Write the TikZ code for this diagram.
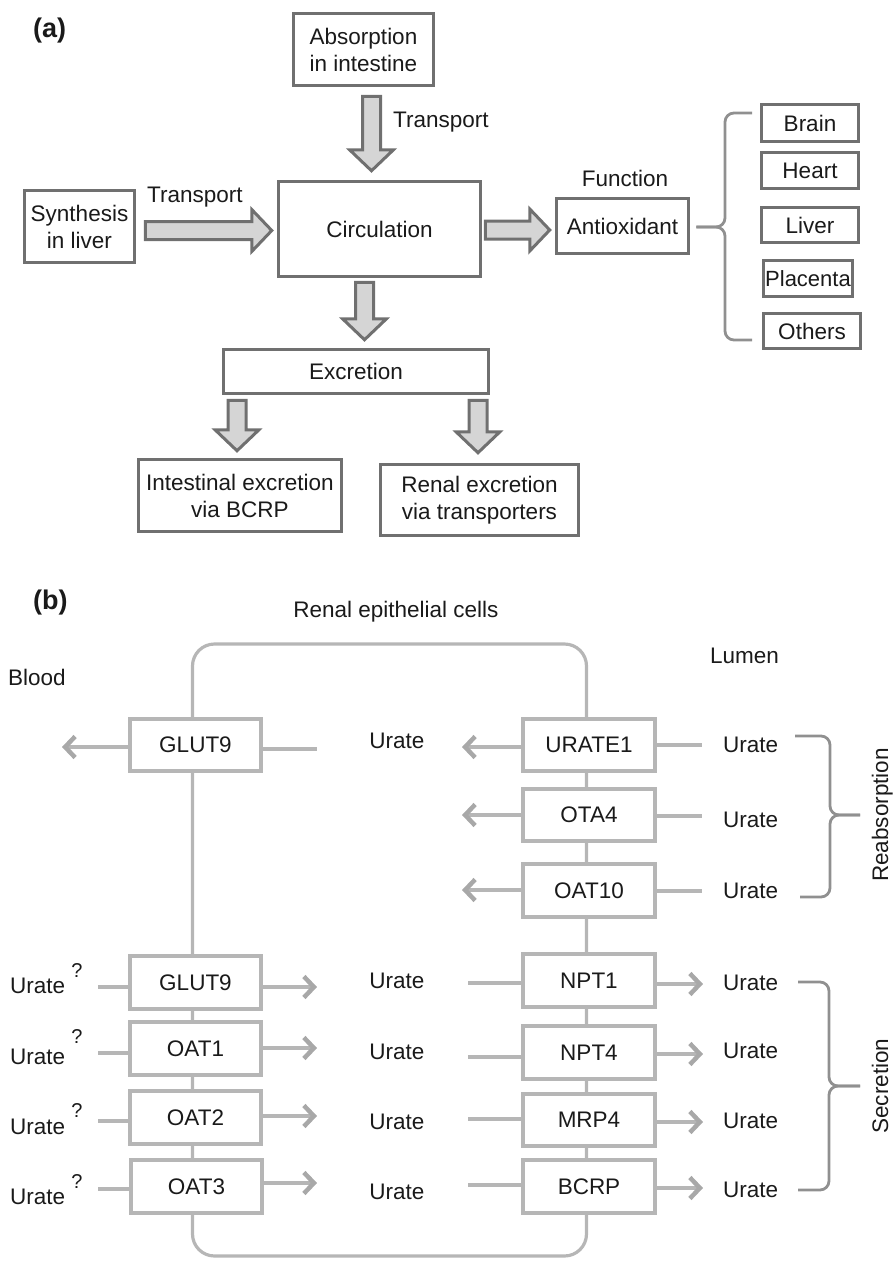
\documentclass[tikz,border=0pt]{standalone}
\usepackage{fontspec}
\setmainfont{Liberation Sans}
\usetikzlibrary{calc,arrows.meta}
\definecolor{boxA}{HTML}{707070}
\definecolor{fillA}{HTML}{D5D5D5}
\definecolor{lineB}{HTML}{B6B6B6}
\definecolor{headB}{HTML}{A8A8A8}
\definecolor{braceC}{HTML}{909090}
\definecolor{txt}{HTML}{1A1A1A}
\begin{document}
\begin{tikzpicture}[x=1pt,y=-1pt,
  every node/.style={font=\fontsize{22.5}{27}\selectfont, text=txt, inner sep=0pt},
  boxa/.style={draw=boxA, line width=3.5pt, fill=white, align=center},
  fat/.style={draw=boxA, fill=fillA, line width=3pt, line join=miter},
  boxb/.style={draw=lineB, line width=3.6pt, fill=white, minimum width=131.5pt, minimum height=52.5pt},
  cellline/.style={draw=lineB, line width=3.2pt},
  flow/.style={draw=lineB, line width=3.2pt},
  flowarr/.style={flow, -{Straight Barb[length=10pt,width=21pt,line width=4.5pt,color=headB]}},
  brc/.style={draw=braceC, line width=2.8pt, rounded corners=9pt},
  lab/.style={font=\fontsize{27}{30}\bfseries\selectfont, anchor=base west},
  qm/.style={font=\fontsize{20}{24}\selectfont, anchor=base},
]
\useasboundingbox (0,0) rectangle (893,1261);

% ---------------- (a) ----------------
\node[lab] (la) at (33,37) {(a)};
\node[boxa, minimum width=140, minimum height=72] (abs) at (363.5,49.5) {Absorption\\in intestine};
\node[boxa, minimum width=110, minimum height=72] (syn) at (79.5,226.5) {Synthesis\\in liver};
\node[boxa, minimum width=202, minimum height=95] (circ) at (379.5,229) {Circulation};
\node[boxa, minimum width=132, minimum height=55] (anti) at (622.5,226) {Antioxidant};
\node[boxa, minimum width=97, minimum height=37] (brain) at (810,123) {Brain};
\node[boxa, minimum width=97, minimum height=36] (heart) at (810,170.5) {Heart};
\node[boxa, minimum width=97, minimum height=35] (liver) at (810,225) {Liver};
\node[boxa, minimum width=89, minimum height=36, font=\fontsize{22}{27}\selectfont] (plac) at (808,278.5) {Placenta};
\node[boxa, minimum width=97, minimum height=35] (oth) at (812,331) {Others};
\node[boxa, minimum width=265, minimum height=44] (exc) at (356,371.5) {Excretion};
\node[boxa, minimum width=203, minimum height=72] (intx) at (240,495.5) {Intestinal excretion\\via BCRP};
\node[boxa, minimum width=198, minimum height=71] (renx) at (479.5,500) {Renal excretion\\via transporters};

\node[anchor=base west] (t1) at (393,127) {Transport};
\node[anchor=base west] (t2) at (147,202) {Transport};
\node[anchor=base] (fn) at (625,186) {Function};

% fat arrows
\draw[fat] let \p1=($(abs.south)+(8,9)$), \p2=($(circ.north)+(0,-9)$) in
  (\x1-9pt,\y1) -- (\x1+9pt,\y1) -- (\x1+9pt,\y2+21pt) -- (\x1+22pt,\y2+21pt) -- (\x1,\y2)
  -- (\x1-22pt,\y2+21pt) -- (\x1-9pt,\y2+21pt) -- cycle;
\draw[fat] let \p1=($(circ.south)+(-15,4)$), \p2=($(exc.north)+(0,-8)$) in
  (\x1-9pt,\y1) -- (\x1+9pt,\y1) -- (\x1+9pt,\y2+21pt) -- (\x1+22pt,\y2+21pt) -- (\x1,\y2)
  -- (\x1-22pt,\y2+21pt) -- (\x1-9pt,\y2+21pt) -- cycle;
\draw[fat] let \p1=($(exc.south)+(-119,5)$), \p2=($(intx.north)+(0,-7)$) in
  (\x1-9pt,\y1) -- (\x1+9pt,\y1) -- (\x1+9pt,\y2+21pt) -- (\x1+22pt,\y2+21pt) -- (\x1,\y2)
  -- (\x1-22pt,\y2+21pt) -- (\x1-9pt,\y2+21pt) -- cycle;
\draw[fat] let \p1=($(exc.south)+(122,5)$), \p2=($(renx.north)+(0,-10)$) in
  (\x1-9pt,\y1) -- (\x1+9pt,\y1) -- (\x1+9pt,\y2+21pt) -- (\x1+22pt,\y2+21pt) -- (\x1,\y2)
  -- (\x1-22pt,\y2+21pt) -- (\x1-9pt,\y2+21pt) -- cycle;
\draw[fat] let \p1=($(syn.east)+(9,4)$), \p2=($(circ.west)+(-5,0)$) in
  (\x1,\y1+9pt) -- (\x2-20pt,\y1+9pt) -- (\x2-20pt,\y1+21pt) -- (\x2,\y1)
  -- (\x2-20pt,\y1-21pt) -- (\x2-20pt,\y1-9pt) -- (\x1,\y1-9pt) -- cycle;
\draw[fat] let \p1=($(circ.east)+(3,1)$), \p2=($(anti.west)+(-5,0)$) in
  (\x1,\y1+9pt) -- (\x2-20pt,\y1+9pt) -- (\x2-20pt,\y1+21pt) -- (\x2,\y1)
  -- (\x2-20pt,\y1-21pt) -- (\x2-20pt,\y1-9pt) -- (\x1,\y1-9pt) -- cycle;

% brace (a)
\coordinate (btip) at ($(anti.east)+(6,1)$);
\draw[brc] (752,113) -- (725,113) -- (725,227) -- (btip);
\draw[brc] (btip) -- (725,227) -- (725,340) -- (752,340);

% ---------------- (b) ----------------
\node[lab] (lb) at (33,609) {(b)};
\node[anchor=base] (rec) at (396,617) {Renal epithelial cells};
\node[anchor=base west] (blood) at (8,685) {Blood};
\node[anchor=base west] (lumen) at (710,663) {Lumen};

\draw[cellline, rounded corners=22pt] (192.5,644) rectangle (586.5,1256);

\node[boxb] (gl1) at (195.5,745) {GLUT9};
\node[boxb] (gl2) at (195.5,982.5) {GLUT9};
\node[boxb] (oat1) at (195.5,1048.5) {OAT1};
\node[boxb] (oat2) at (195.5,1117.5) {OAT2};
\node[boxb] (oat3) at (196.5,1186.5) {OAT3};
\node[boxb] (ur1) at (589,745) {URATE1};
\node[boxb] (ota4) at (589,815) {OTA4};
\node[boxb] (oat10) at (589,890.5) {OAT10};
\node[boxb] (npt1) at (589,980.5) {NPT1};
\node[boxb] (npt4) at (589,1052.5) {NPT4};
\node[boxb] (mrp4) at (589,1120) {MRP4};
\node[boxb] (bcrp) at (589,1186.5) {BCRP};

% top rows
\coordinate (gl1L) at (62,747);   \draw[flowarr] (gl1L -| gl1.west) -- (gl1L);
\coordinate (gl1R) at (317,749);  \draw[flow] (gl1R -| gl1.east) -- (gl1R);
\coordinate (ur1L) at (462,747);  \draw[flowarr] (ur1L -| ur1.west) -- (ur1L);
\coordinate (ur1R) at (702,745);  \draw[flow] (ur1R -| ur1.east) -- (ur1R);
\coordinate (ota4L) at (462,815); \draw[flowarr] (ota4L -| ota4.west) -- (ota4L);
\coordinate (ota4R) at (702,816); \draw[flow] (ota4R -| ota4.east) -- (ota4R);
\coordinate (oat10L) at (462,890); \draw[flowarr] (oat10L -| oat10.west) -- (oat10L);
\coordinate (oat10R) at (702,891); \draw[flow] (oat10R -| oat10.east) -- (oat10R);

% bottom-left rows
\coordinate (gl2L) at (98,987);    \draw[flow] (gl2L) -- (gl2L -| gl2.west);
\coordinate (gl2R) at (317,987);   \draw[flowarr] (gl2R -| gl2.east) -- (gl2R);
\coordinate (oat1L) at (98,1053);  \draw[flow] (oat1L) -- (oat1L -| oat1.west);
\coordinate (oat1R) at (317,1048); \draw[flowarr] (oat1R -| oat1.east) -- (oat1R);
\coordinate (oat2L) at (98,1121);  \draw[flow] (oat2L) -- (oat2L -| oat2.west);
\coordinate (oat2R) at (317,1116); \draw[flowarr] (oat2R -| oat2.east) -- (oat2R);
\coordinate (oat3L) at (98,1189);  \draw[flow] (oat3L) -- (oat3L -| oat3.west);
\coordinate (oat3R) at (317,1183); \draw[flowarr] (oat3R -| oat3.east) -- (oat3R);

% bottom-right rows
\coordinate (npt1L) at (468,983);  \draw[flow] (npt1L) -- (npt1L -| npt1.west);
\coordinate (npt1R) at (703,984);  \draw[flowarr] (npt1R -| npt1.east) -- (npt1R);
\coordinate (npt4L) at (468,1057); \draw[flow] (npt4L) -- (npt4L -| npt4.west);
\coordinate (npt4R) at (703,1054); \draw[flowarr] (npt4R -| npt4.east) -- (npt4R);
\coordinate (mrp4L) at (468,1119); \draw[flow] (mrp4L) -- (mrp4L -| mrp4.west);
\coordinate (mrp4R) at (703,1122); \draw[flowarr] (mrp4R -| mrp4.east) -- (mrp4R);
\coordinate (bcrpL) at (468,1185); \draw[flow] (bcrpL) -- (bcrpL -| bcrp.west);
\coordinate (bcrpR) at (703,1188); \draw[flowarr] (bcrpR -| bcrp.east) -- (bcrpR);

% Urate labels
\node[anchor=base] (um0) at (397,748) {Urate};
\node[anchor=base] (um1) at (397,988) {Urate};
\node[anchor=base] (um2) at (397,1059) {Urate};
\node[anchor=base] (um3) at (397,1129) {Urate};
\node[anchor=base] (um4) at (397,1199) {Urate};

\node[anchor=base west] (ul1) at (10,993) {Urate};
\node[anchor=base west] (ul2) at (10,1064) {Urate};
\node[anchor=base west] (ul3) at (10,1134) {Urate};
\node[anchor=base west] (ul4) at (10,1204) {Urate};
\node[qm] (q1) at (77,977) {?};
\node[qm] (q2) at (77,1043) {?};
\node[qm] (q3) at (77,1117) {?};
\node[qm] (q4) at (77,1188) {?};

\node[anchor=base west] (ur1u) at (723,752) {Urate};
\node[anchor=base west] (ur2u) at (723,827) {Urate};
\node[anchor=base west] (ur3u) at (723,898) {Urate};
\node[anchor=base west] (ur4u) at (723,990) {Urate};
\node[anchor=base west] (ur5u) at (723,1058) {Urate};
\node[anchor=base west] (ur6u) at (723,1128) {Urate};
\node[anchor=base west] (ur7u) at (723,1197) {Urate};

% braces (b)
\draw[brc] (795,736) -- (830,736) -- (830,815) -- (860,815);
\draw[brc] (860,815) -- (830,815) -- (830,897) -- (800,897);
\node[rotate=90, anchor=base] (reab) at (888,815) {Reabsorption};
\draw[brc] (798,982) -- (829,982) -- (829,1086) -- (860,1086);
\draw[brc] (860,1086) -- (829,1086) -- (829,1190) -- (798,1190);
\node[rotate=90, anchor=base] (sec) at (888,1086) {Secretion};
\end{tikzpicture}
\end{document}
